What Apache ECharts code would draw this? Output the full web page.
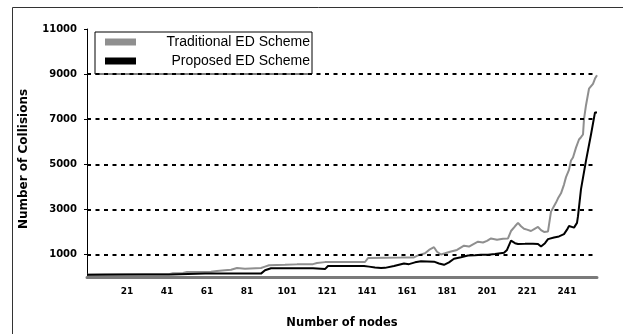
<!DOCTYPE html>
<html>
<head>
<meta charset="utf-8">
<script src="https://cdn.jsdelivr.net/npm/echarts@6/dist/echarts.min.js"></script>
<style>
  html, body { margin: 0; padding: 0; background: #fff; }
  #chart { width: 623px; height: 334px; }
</style>
</head>
<body>
<div id="chart"></div>
<script>
// ---- data ----
const seriesNames = ['Traditional ED Scheme', 'Proposed ED Scheme'];

const tradNodes  = [1, 10, 20, 30, 42, 44, 49, 51, 63, 66, 70, 73, 76, 77, 80, 88, 90, 92, 100, 106, 114, 116, 120, 130, 140,
  141.5, 150, 158, 164.5, 166.5, 170, 172, 173, 174.5, 176, 178, 180, 183, 186, 189.5, 192, 194, 196.5, 199, 201, 203, 206,
  209, 211.5, 213, 215, 216.5, 218, 219.5, 221, 223, 225, 226.5, 228, 229.5, 231.5, 233, 234, 235.5, 236.5, 238, 239.5,
  240.5, 242, 243, 244, 245.5, 247, 248, 249, 249.5, 250.5, 252, 253, 254, 255, 256];
const tradValues = [100, 110, 110, 120, 120, 170, 180, 220, 230, 270, 300, 320, 400, 330, 370, 400, 460, 520, 540, 560, 570, 620, 660, 665, 665,
  840, 850, 860, 870, 960, 1050, 1200, 1250, 1320, 1120, 1000, 1050, 1130, 1200, 1390, 1350, 1450, 1565, 1530, 1600, 1710, 1650,
  1700, 1710, 2040, 2250, 2400, 2250, 2140, 2100, 2040, 2150, 2220, 2080, 2000, 2020, 2900, 3060, 3300, 3490, 3710, 4100,
  4430, 4750, 5170, 5300, 5740, 6100, 6200, 6320, 7000, 7620, 8350, 8420, 8570, 8800, 8950];

const propNodes  = [1, 20, 43, 44, 60, 70, 88, 90, 93, 100, 110, 114, 115, 120, 121.5, 130, 139.5, 142, 145, 148, 150, 154.5,
  159.5, 162, 165, 168, 171, 174.5, 177, 179.5, 182, 184.5, 188, 191.5, 195, 198, 201.5, 205, 209.5, 211, 213, 215, 216.5,
  220, 224, 226.5, 228, 230, 231.5, 234.5, 237, 239.5, 241, 242, 244.5, 246, 246.5, 247, 248, 250.5, 253, 255, 256];
const propValues = [100, 110, 110, 150, 160, 150, 150, 300, 390, 390, 390, 390, 350, 350, 490, 490, 490, 460, 420, 400, 405, 490,
  595, 570, 650, 695, 690, 680, 600, 540, 650, 810, 880, 957, 960, 990, 990, 1020, 1075, 1200, 1610, 1500, 1465,
  1470, 1480, 1465, 1350, 1500, 1680, 1755, 1800, 1900, 2100, 2260, 2190, 2400, 2700, 3100, 3900, 5160, 6320, 7300, 7300];

const xTickLabels = [21, 41, 61, 81, 101, 121, 141, 161, 181, 201, 221, 241];
const yTickLabels = [1000, 3000, 5000, 7000, 9000, 11000];
const gridValues  = [1000, 3000, 5000, 7000, 9000];

const zip = (xs, ys) => xs.map((x, i) => [x, ys[i]]);

const chart = echarts.init(document.getElementById('chart'), null, { renderer: 'canvas' });

const boldTick = { fontFamily: 'DejaVu Sans', fontWeight: 'bold', color: '#000', formatter: v => String(v) };

chart.setOption({
  animation: false,
  backgroundColor: '#fff',
  graphic: [{
    type: 'rect',
    shape: { x: 12.5, y: 7.5, width: 700, height: 400 },
    style: { fill: 'none', stroke: '#333', lineWidth: 1 },
    silent: true,
    z: -10
  }],
  grid: { left: 87, right: 26, top: 29, bottom: 52, containLabel: false },
  legend: {
    orient: 'vertical',
    left: 95,
    top: 32,
    padding: [3, 2, 6, 10],
    itemGap: 5,
    itemWidth: 31,
    itemHeight: 7,
    icon: 'rect',
    backgroundColor: '#fff',
    borderColor: '#000',
    borderWidth: 1,
    borderRadius: 0,
    data: seriesNames,
    formatter: name => '{t|' + name + '}',
    textStyle: {
      rich: {
        t: { width: 169, align: 'right', fontFamily: 'Liberation Sans', fontSize: 14, color: '#000' }
      }
    }
  },
  xAxis: {
    type: 'value',
    min: 1,
    max: 256,
    name: 'Number of nodes',
    nameLocation: 'middle',
    nameGap: 40,
    nameTextStyle: { fontFamily: 'DejaVu Sans', fontWeight: 'bold', fontSize: 11.5, color: '#000' },
    axisLine: { show: true, onZero: false, lineStyle: { color: '#7a7a7a', width: 3, type: [3, 1] } },
    axisTick: { show: false },
    splitLine: { show: false },
    axisLabel: Object.assign({ customValues: xTickLabels, fontSize: 9, margin: 10 }, boldTick)
  },
  yAxis: {
    type: 'value',
    min: 0,
    max: 11000,
    name: 'Number of Collisions',
    nameLocation: 'middle',
    nameGap: 57,
    nameTextStyle: { fontFamily: 'DejaVu Sans', fontWeight: 'bold', fontSize: 12, color: '#000', padding: [0, 12, 0, 0] },
    axisLine: { show: true, lineStyle: { color: '#000', width: 1 } },
    axisTick: { show: true, customValues: yTickLabels, length: 3, lineStyle: { color: '#000' } },
    splitLine: { show: false },
    axisLabel: Object.assign({ customValues: yTickLabels, fontSize: 10, margin: 10 }, boldTick)
  },
  series: [
    {
      name: seriesNames[0],
      type: 'line',
      data: zip(tradNodes, tradValues),
      showSymbol: false,
      symbol: 'none',
      color: '#8f8f8f',
      lineStyle: { color: '#8f8f8f', width: 2 },
      z: 3,
      markLine: {
        silent: true,
        symbol: ['none', 'none'],
        label: { show: false },
        lineStyle: { color: '#000', width: 2, type: [4, 4.5] },
        data: gridValues.map(v => ({ yAxis: v }))
      }
    },
    {
      name: seriesNames[1],
      type: 'line',
      data: zip(propNodes, propValues),
      showSymbol: false,
      symbol: 'none',
      color: '#000',
      lineStyle: { color: '#000', width: 2 },
      z: 4
    }
  ]
});
</script>
</body>
</html>
